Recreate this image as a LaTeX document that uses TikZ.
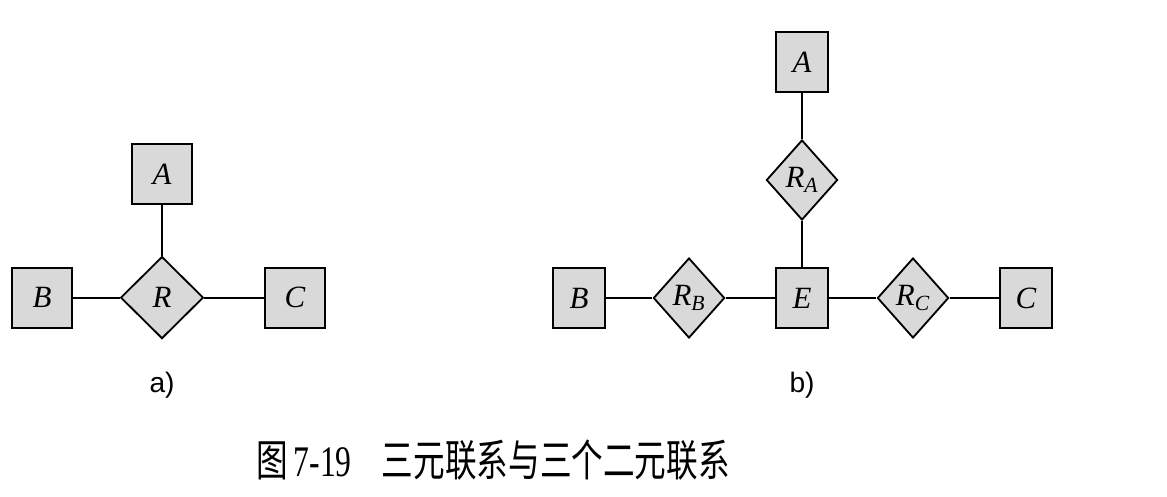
\documentclass[tikz,border=0pt]{standalone}
\usepackage{fontspec}
\setmainfont{Liberation Serif}
\newfontfamily\cjk{Noto Sans CJK SC}
\newfontfamily\labelfont{Liberation Sans}
\usepackage{tikz}
\usetikzlibrary{shapes.geometric}
\tikzset{
every picture/.style={line width=1.3pt},
%%%%%%%%%%  Node styles
entity/.style={rectangle,draw,fill=black!15,inner sep=0pt,
               minimum width=1.5cm,minimum height=1.5cm,
               font=\fontsize{22}{26}\selectfont\itshape},
small_entity/.style={entity,minimum width=1.3cm},
relation/.style={diamond,draw,fill=black!15,inner sep=0pt,
                 minimum width=2.07cm,minimum height=2.05cm,
                 font=\fontsize{22}{26}\selectfont\itshape},
small_relation/.style={relation,minimum width=1.78cm,minimum height=2cm},
sublabel/.style={font=\labelfont\fontsize{20}{24}\selectfont},
caption/.style={font=\fontsize{22.5}{27}\selectfont,yscale=1.38,transform shape,
                anchor=west,inner sep=0pt}
}

\begin{document}
\begin{tikzpicture}
\useasboundingbox (0,0) rectangle (29.175,12.4);
%% a) ternary relationship
\begin{scope}[shift={(0,0)}]
\node[entity] (a) at (4.05,8.05) {A};
\node[entity] (b) at (1.05,4.96) {B};
\node[relation] (r) at (4.05,4.96) {R};
\node[entity] (c) at (7.375,4.96) {C};
\draw (a) -- (r);
\draw (b) -- (r);
\draw (r) -- (c);
\node[sublabel] (la) at (4.05,2.775) {a)};
\end{scope}
%%%%%%%%%%%%%%%%%%%%%%%%%%%%%%%%%%%%%%%%%%%%%%%%%%%%
%% b) three binary relationships
\begin{scope}[shift={(0,0)}]
\node[small_entity] (a) at (20.05,10.85) {A};
\node[small_relation] (ra) at (20.05,7.9) {R\textsubscript{\itshape A}};
\node[small_entity] (e) at (20.05,4.95) {E};
\node[small_entity] (b) at (14.475,4.95) {B};
\node[small_relation] (rb) at (17.225,4.95) {R\textsubscript{\itshape B}};
\node[small_relation] (rc) at (22.825,4.95) {R\textsubscript{\itshape C}};
\node[small_entity] (c) at (25.65,4.95) {C};
\draw (a) -- (ra) -- (e);
\draw (b) -- (rb) -- (e);
\draw (e) -- (rc) -- (c);
\node[sublabel] (lb) at (20.05,2.775) {b)};
\end{scope}
%%%%%%%%%%%%%%%%%%%%%%%%%%%%%%%%%%%%%%%%%%%%%%%%%%%%
%% caption
\node[caption] (cap) at (6.4,0.9)
  {{\cjk 图}\,7-19\hspace{0.95em}{\cjk 三元联系与三个二元联系}};
\end{tikzpicture}
\end{document}
